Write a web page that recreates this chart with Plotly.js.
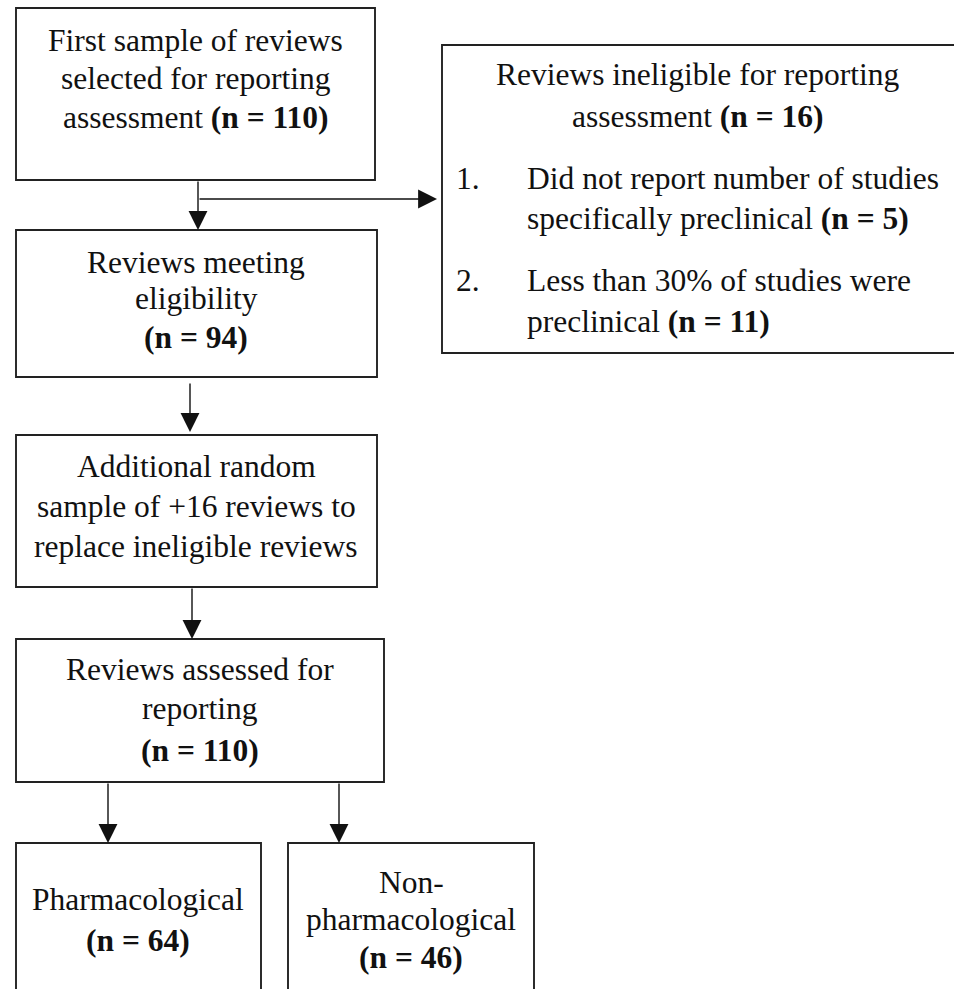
<!DOCTYPE html>
<html><head><meta charset="utf-8">
<script src="https://cdn.plot.ly/plotly-3.0.1.min.js"></script>
<style>html,body{margin:0;padding:0;background:#fff;}#chart{width:954px;height:989px;}</style>
</head><body><div id="chart"></div>
<script>
// ---- data (flow counts and labels) ----
const firstSampleLines = ["First sample of reviews", "selected for reporting", "assessment"];
const firstSampleCount = 110;
const ineligibleLines = ["Reviews ineligible for reporting", "assessment"];
const ineligibleCount = 16;
const exclusionReasons = [["Did not report number of studies", "specifically preclinical"], ["Less than 30% of studies were", "preclinical"]];
const exclusionCounts = [5, 11];
const eligibleLines = ["Reviews meeting", "eligibility"];
const eligibleCount = 94;
const replacementLines = ["Additional random", "sample of +16 reviews to", "replace ineligible reviews"];
const assessedLines = ["Reviews assessed for", "reporting"];
const assessedCount = 110;
const categoryNames = [["Pharmacological"], ["Non-", "pharmacological"]];
const categoryCounts = [64, 46];

// ---- layout geometry (pixel space) ----
const FONT = {family: "Liberation Serif, Times New Roman, serif", size: 31.5, color: "#111"};
const LINE = {color: "#222", width: 1.9};
const n = v => "<b>(n = " + v + ")</b>";

const boxes = [
  [16, 375, 8, 180],
  [442, 975, 45, 353],
  [16, 377, 230, 377],
  [16, 377, 435, 587],
  [16, 384, 639, 782],
  [16, 261, 843, 1005],
  [288, 534, 843, 1005]
];
const shapes = boxes.map(b => ({type: "rect", xref: "x", yref: "y", x0: b[0], x1: b[1], y0: b[2], y1: b[3], line: LINE, fillcolor: "rgba(0,0,0,0)"}));

// connector arrows: [tailX, tailY, tipX, tipY]
const arrows = [
  [198, 180, 198, 230],
  [198, 199, 437, 199],
  [190, 382, 190, 432],
  [192, 587, 192, 639],
  [108, 782, 108, 843],
  [339, 782, 339, 843]
];
const annotations = arrows.map(a => ({
  xref: "x", yref: "y", axref: "x", ayref: "y",
  x: a[2], y: a[3], ax: a[0], ay: a[1], text: "",
  showarrow: true, arrowhead: 2, arrowsize: 2.7, arrowwidth: 1.4, arrowcolor: "#111", standoff: 0
}));

function block(x, ys, lines, xanchor) {
  lines.forEach((t, i) => annotations.push({xref: "x", yref: "y", x: x, y: ys[i], text: t, showarrow: false,
    xanchor: xanchor || "center", yanchor: "middle", align: xanchor || "center", font: FONT}));
}
const withCount = (lines, c) => lines.slice(0, -1).concat([lines[lines.length - 1] + " " + n(c)]);

block(195.5, [40, 78.5, 117], withCount(firstSampleLines, firstSampleCount));
block(698, [74, 116], withCount(ineligibleLines, ineligibleCount));
const reasonYs = [[178, 218], [280, 321]];
exclusionReasons.forEach((r, i) => {
  block(454, [reasonYs[i][0]], [(i + 1) + "."], "left");
  block(525, reasonYs[i], withCount(r, exclusionCounts[i]), "left");
});
block(196, [262, 298, 337], eligibleLines.concat([n(eligibleCount)]));
block(196, [466, 506, 546], replacementLines);
block(200, [669, 708, 750], assessedLines.concat([n(assessedCount)]));
block(138, [899, 940], categoryNames[0].concat([n(categoryCounts[0])]));
block(411, [882, 919, 957], categoryNames[1].concat([n(categoryCounts[1])]));

const layout = {
  width: 954, height: 989,
  margin: {l: 0, r: 0, t: 0, b: 0},
  paper_bgcolor: "#fff", plot_bgcolor: "#fff",
  font: {family: "Liberation Serif, Times New Roman, serif"},
  showlegend: false,
  xaxis: {range: [0, 954], visible: false, fixedrange: true},
  yaxis: {range: [989, 0], visible: false, fixedrange: true},
  shapes: shapes,
  annotations: annotations
};
Plotly.newPlot("chart", [], layout, {staticPlot: true, displayModeBar: false});
</script>
</body></html>
